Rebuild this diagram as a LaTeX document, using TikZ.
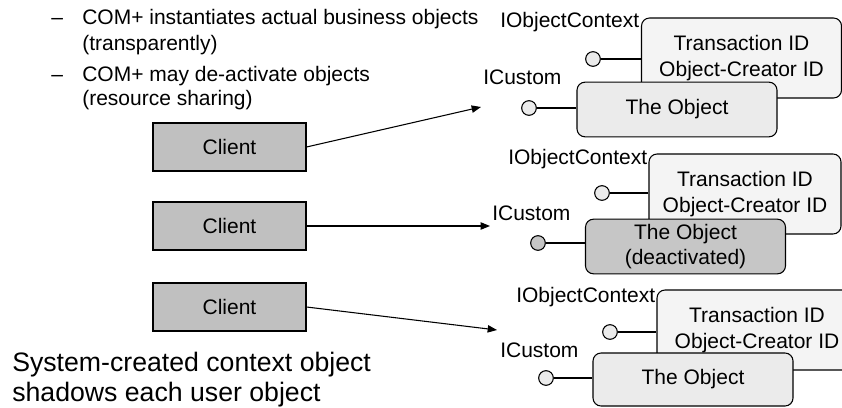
\documentclass[tikz,border=0pt]{standalone}
\usepackage{fontspec}
\setmainfont{Liberation Sans}
\usetikzlibrary{arrows.meta,positioning}
\definecolor{cInk}{HTML}{000000}
\definecolor{cClient}{HTML}{C0C0C0}
\definecolor{cObj}{HTML}{EBEBEB}
\definecolor{cCtx}{HTML}{F4F4F4}
\definecolor{cDead}{HTML}{C6C6C6}
\newcommand{\lblfont}{\fontsize{15.75}{19}\selectfont}
\newcommand{\bigfont}{\fontsize{20}{22.5}\selectfont}
\tikzset{
  txt/.style={anchor=base west,inner sep=0pt,font=\lblfont,text=cInk},
  bigtxt/.style={txt,font=\bigfont},
  client/.style={draw=cInk,fill=cClient,line width=0.8pt,minimum width=114.75pt,minimum height=36pt,inner sep=0pt,font=\lblfont},
  ctxbox/.style={draw=cInk,fill=cCtx,rounded corners=6pt,line width=0.8pt,minimum width=150pt,minimum height=60pt,inner sep=0pt,align=center,font=\lblfont},
  objbox/.style={draw=cInk,fill=#1,rounded corners=6pt,line width=0.8pt,minimum width=150pt,minimum height=41pt,inner sep=0pt,align=center,font=\lblfont},
  objbox/.default=cObj,
  pin/.style={circle,draw=cInk,fill=#1,line width=0.8pt,minimum size=11pt,inner sep=0pt},
  pin/.default=cObj,
  wire/.style={line width=0.8pt,draw=cInk},
  arr/.style={-{Triangle[length=7pt,width=5.5pt]},line width=0.8pt,draw=cInk},
}

\begin{document}
\begin{tikzpicture}[x=0.75pt,y=-0.75pt]
  \useasboundingbox (0,0) rectangle (842,407);
  % bullet list
  \node[txt] (dash1) at (51,24.5) {--};
  \node[txt] (bul1a) at (82,24.5) {COM+ instantiates actual business objects};
  \node[txt] (bul1b) at (82,50.5) {(transparently)};
  \node[txt] (dash2) at (51,81.5) {--};
  \node[txt] (bul2a) at (82,81.5) {COM+ may de-activate objects};
  \node[txt] (bul2b) at (82,105.5) {(resource sharing)};
  % clients
  \node[client] (cl1) at (229.5,147) {Client};
  \node[client] (cl2) at (229.5,226) {Client};
  \node[client] (cl3) at (229.5,307) {Client};
  % group 1
  \node[ctxbox] (ctx1) at (741.5,58) {Transaction ID\\Object-Creator ID};
  \node[objbox] (obj1) at (677,109.5) {The Object};
  \node[txt] (ctxlbl1) at (500,27.5) {IObjectContext};
  \node[txt] (cuslbl1) at (483,84.5) {ICustom};
  \node[pin] (ctxpin1) at (593,59) {};
  \node[pin] (objpin1) at (529,108) {};
  \draw[wire] (ctxpin1) -- (ctxpin1 -| ctx1.west);
  \draw[wire] (objpin1) -- (objpin1 -| obj1.west);
  % group 2
  \node[ctxbox,minimum width=144pt] (ctx2) at (745,194) {Transaction ID\\Object-Creator ID};
  \node[objbox=cDead] (obj2) at (685.5,246.5) {The Object\\(deactivated)};
  \node[txt] (ctxlbl2) at (508,164.5) {IObjectContext};
  \node[txt] (cuslbl2) at (492,220.5) {ICustom};
  \node[pin] (ctxpin2) at (602,193) {};
  \node[pin=cDead] (objpin2) at (538,243) {};
  \draw[wire] (ctxpin2) -- (ctxpin2 -| ctx2.west);
  \draw[wire] (objpin2) -- (objpin2 -| obj2.west);
  % group 3
  \node[ctxbox] (ctx3) at (757,330) {Transaction ID\\Object-Creator ID};
  \node[objbox,minimum height=39.75pt] (obj3) at (693,379.5) {The Object};
  \node[txt] (ctxlbl3) at (516,302.5) {IObjectContext};
  \node[txt] (cuslbl3) at (500,357.5) {ICustom};
  \node[pin] (ctxpin3) at (610,332) {};
  \node[pin] (objpin3) at (546,378) {};
  \draw[wire] (ctxpin3) -- (ctxpin3 -| ctx3.west);
  \draw[wire] (objpin3) -- (objpin3 -| obj3.west);
  % calls
  \coordinate (tip1) at (481,107);
  \coordinate (tip2) at (490,226);
  \coordinate (tip3) at (497,330);
  \draw[arr] (cl1.east) -- (tip1);
  \draw[arr] (cl2.east) -- (tip2);
  \draw[arr] (cl3.east) -- (tip3);
  % caption
  \node[bigtxt] (cap1) at (12,371.5) {System-created context object};
  \node[bigtxt] (cap2) at (12,401.5) {shadows each user object};
\end{tikzpicture}
\end{document}
